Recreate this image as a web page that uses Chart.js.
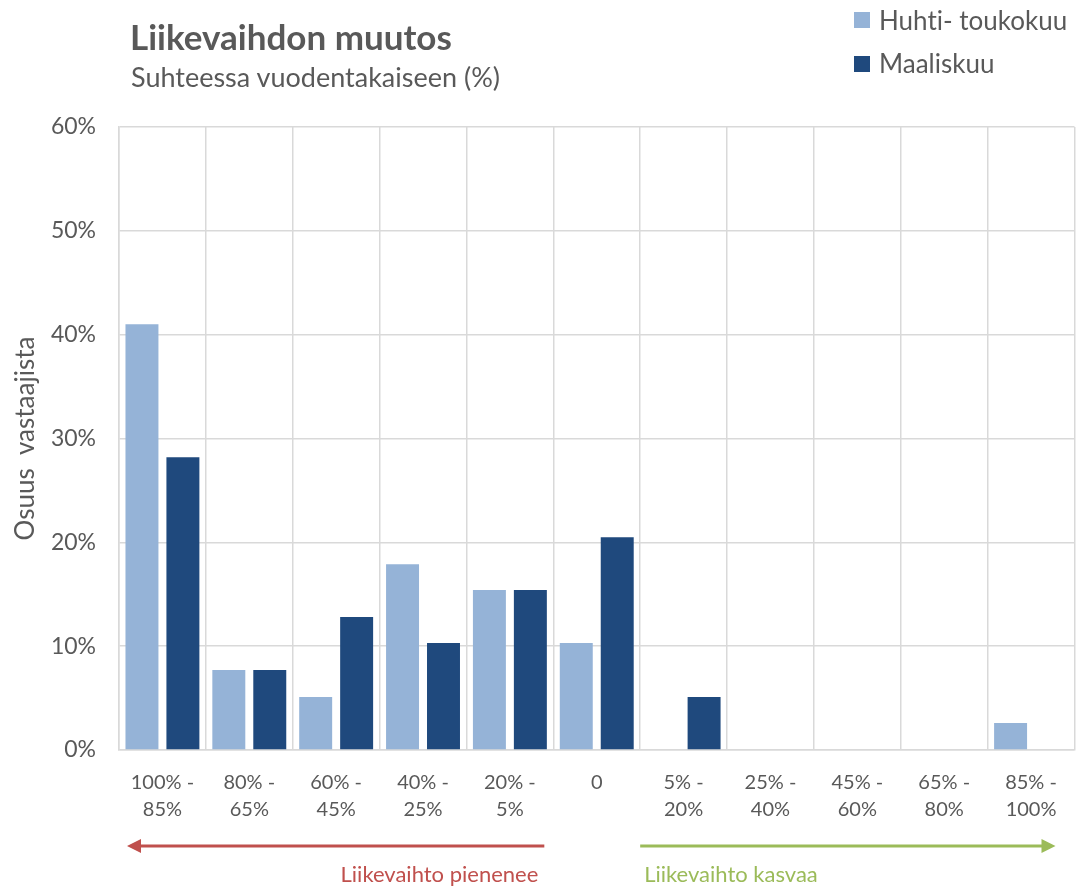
<!DOCTYPE html>
<html>
<head>
<meta charset="utf-8">
<script src="https://cdn.jsdelivr.net/npm/chart.js@4.4.1/dist/chart.umd.min.js"></script>
<style>
  html, body { margin: 0; padding: 0; background: #fff; }
  #wrap { position: relative; width: 1076px; height: 887px; font-family: Lato, "Open Sans", sans-serif; color: #595959; font-variant-ligatures: none; }
  #c { position: absolute; left: 0; top: 0; }
  .t { position: absolute; white-space: nowrap; line-height: 1; }
  .title { left: 130px; top: 19px; font-size: 35px; font-weight: bold; }
  .subtitle { left: 131px; top: 63px; font-size: 27px; }
  .leg { left: 879px; font-size: 26px; }
  .sw { position: absolute; left: 854px; width: 16px; height: 16px; }
</style>
</head>
<body>
<div id="wrap">
  <canvas id="c" width="1076" height="887"></canvas>
  <div class="t title">Liikevaihdon muutos</div>
  <div class="t subtitle">Suhteessa vuodentakaiseen (%)</div>
  <div class="sw" style="top:12px;background:#95b3d7"></div>
  <div class="t leg" style="top:7px">Huhti- toukokuu</div>
  <div class="sw" style="top:56px;background:#1f497d"></div>
  <div class="t leg" style="top:50px">Maaliskuu</div>
</div>
<script>
const categories = [
  ['100% -', '85%'], ['80% -', '65%'], ['60% -', '45%'], ['40% -', '25%'], ['20% -', '5%'],
  '0',
  ['5% -', '20%'], ['25% -', '40%'], ['45% -', '60%'], ['65% -', '80%'], ['85% -', '100%']
];
const seriesNames = ['Huhti- toukokuu', 'Maaliskuu'];
const huhtiToukokuu = [41.0, 7.7, 5.1, 17.9, 15.4, 10.3, 0, 0, 0, 0, 2.6];
const maaliskuu = [28.2, 7.7, 12.8, 10.3, 15.4, 20.5, 5.1, 0, 0, 0, 0];
const yAxisTitle = 'Osuus  vastaajista';
const arrowLabels = ['Liikevaihto pienenee', 'Liikevaihto kasvaa'];

const FONT = 'Lato, "Open Sans", sans-serif';
const GRID = '#d9d9d9';

const arrowsPlugin = {
  id: 'arrows',
  afterDraw(chart) {
    const ctx = chart.ctx;
    const xs = chart.scales.x;
    const half = (xs.getPixelForValue(1) - xs.getPixelForValue(0)) / 2;
    const y = 846;
    function arrow(x1, x2, color) {
      ctx.save();
      ctx.strokeStyle = color; ctx.fillStyle = color; ctx.lineWidth = 3;
      const dir = Math.sign(x2 - x1);
      ctx.beginPath(); ctx.moveTo(x1, y); ctx.lineTo(x2 - dir * 10, y); ctx.stroke();
      ctx.beginPath(); ctx.moveTo(x2, y); ctx.lineTo(x2 - dir * 14, y - 7); ctx.lineTo(x2 - dir * 14, y + 7); ctx.closePath(); ctx.fill();
      ctx.restore();
    }
    const redStart = xs.getPixelForValue(4) + half - 9;
    const redEnd = xs.getPixelForValue(0) - half + 8;
    const greenStart = xs.getPixelForValue(6) - half;
    const greenEnd = xs.getPixelForValue(10) + half - 19;
    arrow(redStart, redEnd, '#c0504d');
    arrow(greenStart, greenEnd, '#9bbb59');
    ctx.save();
    ctx.font = '22px ' + FONT;
    ctx.textBaseline = 'middle';
    ctx.fillStyle = '#c0504d'; ctx.textAlign = 'right';
    ctx.fillText(arrowLabels[0], redStart - 6, 875);
    ctx.fillStyle = '#9bbb59'; ctx.textAlign = 'left';
    ctx.fillText(arrowLabels[1], greenStart + 4, 875);
    ctx.restore();
  }
};

new Chart(document.getElementById('c'), {
  type: 'bar',
  data: {
    labels: categories,
    datasets: [
      { label: seriesNames[0], data: huhtiToukokuu, backgroundColor: '#95b3d7', categoryPercentage: 0.943, barPercentage: 0.805 },
      { label: seriesNames[1], data: maaliskuu, backgroundColor: '#1f497d', categoryPercentage: 0.943, barPercentage: 0.805 }
    ]
  },
  options: {
    responsive: false,
    animation: false,
    devicePixelRatio: 1,
    layout: { padding: { top: 127, left: 0, right: 1, bottom: 0 } },
    plugins: { legend: { display: false }, title: { display: false }, tooltip: { enabled: false } },
    scales: {
      x: {
        grid: { color: GRID, lineWidth: 1.5, offset: true, drawTicks: false },
        border: { color: GRID, width: 1.5 },
        ticks: { color: '#595959', font: { family: FONT, size: 20, lineHeight: 1.35 }, padding: 19, maxRotation: 0, autoSkip: false },
        afterFit(s) { s.height = 137; }
      },
      y: {
        min: 0, max: 60,
        ticks: { stepSize: 10, color: '#595959', font: { family: FONT, size: 23 }, padding: 23, callback: v => v + '%' },
        grid: { color: GRID, lineWidth: 1.5, drawTicks: false },
        border: { color: GRID, width: 1.5 },
        title: { display: true, text: yAxisTitle, color: '#595959', font: { family: FONT, size: 26 }, padding: { top: 10, bottom: 0 } },
        afterFit(s) { s.width = 119; }
      }
    }
  },
  plugins: [arrowsPlugin]
});
</script>
</body>
</html>
